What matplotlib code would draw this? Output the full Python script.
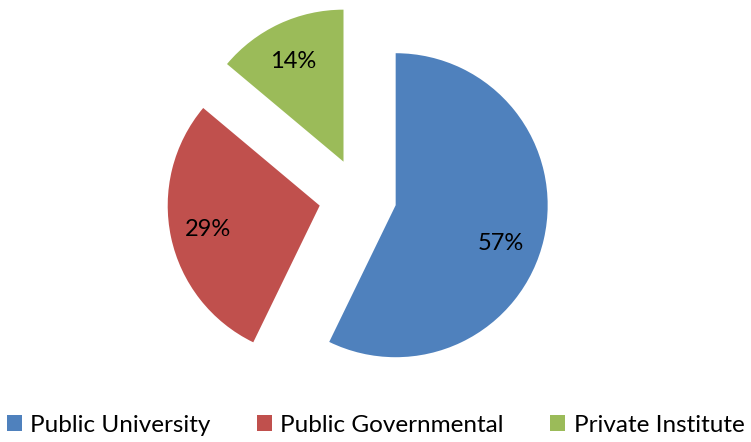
import numpy as np
import matplotlib.pyplot as plt
from matplotlib.patches import Patch

# data
labels = ['Public University', 'Public Governmental', 'Private Institute']
shares = [57.2, 28.9, 13.9]
pct_text = ['57%', '29%', '14%']
colors = ['#4f81bd', '#c0504d', '#9bbb59']
explode = [36.6, 41.2, 39.0]  # pie offsets, in axis (pixel) units

plt.rcParams['font.family'] = ['Lato', 'DejaVu Sans']

fig = plt.figure(figsize=(7.51, 4.42), dpi=100)
ax = fig.add_axes([0, 0, 1, 1])

wedges, texts = ax.pie(shares, colors=colors, explode=explode,
                       startangle=90, counterclock=False,
                       center=(360, 245), radius=152,
                       wedgeprops=dict(linewidth=0))

# percentage labels inside each wedge (blue one sits a bit lower, like Excel)
nudge = [(-4, -13), (-2, 0), (-3, -2)]
for w, t, (dx, dy) in zip(wedges, pct_text, nudge):
    mid = np.deg2rad((w.theta1 + w.theta2) / 2)
    cx, cy = w.center
    r = 0.74 * w.r
    ax.text(cx + r * np.cos(mid) + dx, cy + r * np.sin(mid) + dy, t,
            ha='center', va='center', fontsize=17, color='black')

ax.set_xlim(0, 751)
ax.set_ylim(0, 442)
ax.set_aspect('equal')
ax.axis('off')

handles = [Patch(facecolor=c, edgecolor='none') for c in colors]
fig.legend(handles, labels, loc='center', bbox_to_anchor=(0.5, 0.038),
           ncol=3, frameon=False, fontsize=17.5,
           handlelength=0.62, handleheight=0.62, handletextpad=0.35,
           columnspacing=1.9)

fig.savefig('out.png', dpi=100)
